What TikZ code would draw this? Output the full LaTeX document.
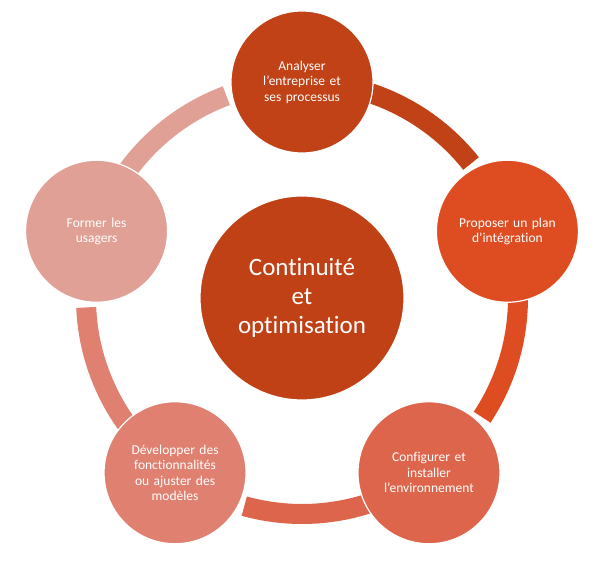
\documentclass[tikz,border=0pt]{standalone}
\usepackage{fontspec}
\setmainfont{Carlito}[Ligatures=NoCommon]
\definecolor{cA}{RGB}{192,66,22}
\definecolor{cB}{RGB}{222,77,34}
\definecolor{cC}{RGB}{221,101,76}
\definecolor{cD}{RGB}{223,128,112}
\definecolor{cE}{RGB}{224,160,150}
\definecolor{cM}{RGB}{191,65,21}
\begin{document}
\begin{tikzpicture}[x=1pt,y=1pt,
  stepnode/.style={circle, draw=white, line width=1.2pt, minimum size=142pt, inner sep=0pt,
    text=white, align=center, font=\fontsize{13.5}{15.5}\selectfont, text width=110pt},
  ringarc/.style={line width=20pt}]
\useasboundingbox (0,0) rectangle (595,565);
\coordinate (C) at (302,267);
% ring arcs
\draw[ringarc, cA] ([shift={(90:216)}]C) arc[start angle=90, end angle=38.5, radius=216];
\draw[ringarc, cB] ([shift={(18:216)}]C) arc[start angle=18, end angle=-33.5, radius=216];
\draw[ringarc, cC] ([shift={(-54:216)}]C) arc[start angle=-54, end angle=-105.5, radius=216];
\draw[ringarc, cD] ([shift={(-126:216)}]C) arc[start angle=-126, end angle=-177.5, radius=216];
\draw[ringarc, cE] ([shift={(162:216)}]C) arc[start angle=162, end angle=110.5, radius=216];
% nodes
\node[stepnode, fill=cA] (n1) at ([shift={(90:216)}]C) {Analyser\\l’entreprise et\\ses processus};
\node[stepnode, fill=cB] (n2) at ([shift={(18:216)}]C) {Proposer un plan\\d’intégration};
\node[stepnode, fill=cC] (n3) at ([shift={(-54:216)}]C) {Configurer et\\installer\\l’environnement};
\node[stepnode, fill=cD] (n4) at ([shift={(-126:216)}]C) {Développer des\\fonctionnalités\\ou ajuster des\\modèles};
\node[stepnode, fill=cE] (n5) at ([shift={(162:216)}]C) {Former les\\usagers};
\node[circle, fill=cM, draw=white, line width=1.2pt, minimum size=204pt, inner sep=0pt,
  text=white, align=center, font=\fontsize{25}{29}\selectfont] (m) at (C) {Continuité\\et\\optimisation};
\end{tikzpicture}
\end{document}
